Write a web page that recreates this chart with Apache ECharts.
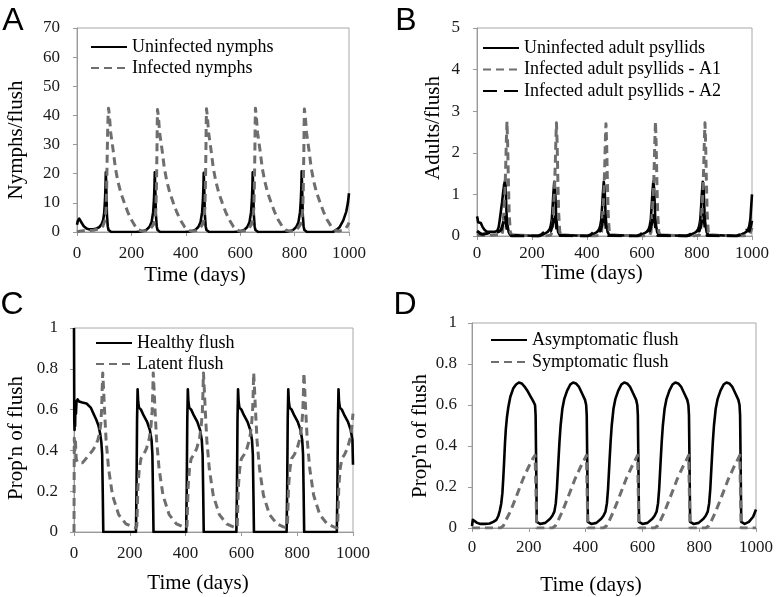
<!DOCTYPE html>
<html><head><meta charset="utf-8">
<script src="https://cdn.jsdelivr.net/npm/echarts@6/dist/echarts.min.js"></script>
<style>html,body{margin:0;padding:0;background:#fff}#c{width:776px;height:597px}</style>
</head><body><div id="c"></div>
<script>
// ---------- tick labels ----------
const xTicks = [0, 200, 400, 600, 800, 1000];
const yTicksA = [0, 10, 20, 30, 40, 50, 60, 70];
const yTicksB = [0, 1, 2, 3, 4, 5];
const yTicksC = [0, 0.2, 0.4, 0.6, 0.8, 1];
const yTicksD = [0, 0.2, 0.4, 0.6, 0.8, 1];

// ---------- Panel A: nymphs per flush [time, value] ----------
const uninfectedNymphs = [
[0,2.5],[3,3.8],[8,4.6],[12,4.3],[18,3.0],[25,2.0],[35,1.2],[45,0.9],[60,0.9],[72,1.2],[82,1.7],[90,2.6],[96,4.0],[100,6.5],[103,11],[105,16],[106,20.5],[108,14],[110,6],[113,2],[116,0.7],[120,0.1],[126,0],
[216,0],[236,0.15],[246,0.4],[256,0.8],[266,1.7],[274,3.3],[280,6.8],[283,11],[285,16],[286,20.5],[288,14],[290,6],[293,2],[296,0.7],[300,0.1],[306,0],
[396,0],[416,0.15],[426,0.4],[436,0.8],[446,1.7],[454,3.3],[460,6.8],[463,11],[465,16],[466,20.3],[468,14],[470,6],[473,2],[476,0.7],[480,0.1],[486,0],
[576,0],[596,0.15],[606,0.4],[616,0.8],[626,1.7],[634,3.3],[640,6.8],[643,11],[645,16],[646,20.5],[648,14],[650,6],[653,2],[656,0.7],[660,0.1],[666,0],
[756,0],[776,0.15],[786,0.4],[796,0.8],[806,1.7],[814,3.3],[820,6.8],[823,11],[825,16],[826,20.8],[828,14],[830,6],[833,2],[836,0.7],[840,0.1],[846,0],
[940,0],[955,0.8],[965,1.6],[979,4],[990,7],[996,10],[1000,13.3]
];
const infectedNymphs = [
[0,0],[10,0.3],[30,0.5],[60,0.6],[80,1.0],[95,2.0],[103,4],[107,8],[109,15],[111,26],[113,36],[115,41.5],[116,42.5],[119,40],[124,34],[133,28],[141,22],[150,17.5],[161,13.5],[174,10],[186,7],[199,4.3],[216,1.7],[227,0.7],[241,0.3],
[256,0.4],[271,1.2],[281,2.5],[286,4],[290,8],[292,15],[294,28],[295,37],[296,42],[299,40],[304,34],[313,28],[321,22],[330,17.5],[341,13.5],[354,10],[366,7],[379,4.3],[396,1.7],[407,0.7],[421,0.3],
[436,0.4],[451,1.2],[461,2.5],[466,4],[470,8],[472,15],[474,28],[475,37],[476,42.3],[479,40],[484,34],[493,28],[501,22],[510,17.5],[521,13.5],[534,10],[546,7],[559,4.3],[576,1.7],[587,0.7],[601,0.3],
[616,0.4],[631,1.2],[641,2.5],[646,4],[650,8],[652,15],[654,28],[655,37],[656,42.5],[659,40],[664,34],[673,28],[681,22],[690,17.5],[701,13.5],[714,10],[726,7],[739,4.3],[756,1.7],[767,0.7],[781,0.3],
[796,0.4],[811,1.2],[821,2.5],[826,4],[830,8],[832,15],[834,28],[835,37],[836,42.2],[839,40],[844,34],[853,28],[861,22],[870,17.5],[881,13.5],[894,10],[906,7],[919,4.3],[936,1.7],[947,0.7],[961,0.3],
[976,0.6],[988,1.3],[995,2.2],[1000,3.2]
];

// ---------- Panel B: adults per flush ----------
const uninfectedAdults = [
[0,0.47],[2,0.42],[4,0.33],[7,0.32],[10,0.35],[14,0.31],[20,0.22],[27,0.15],[35,0.11],[50,0.1],[65,0.1],[74,0.13],[79,0.22],[83,0.4],[87,0.6],[91,0.8],[95,1.05],[99,1.25],[102,1.32],[104,1.2],[106,0.8],[108,0.45],[111,0.25],[115,0.1],[120,0.03],[127,0],
[222,0],[237,0.03],[247,0.06],[257,0.1],[264,0.16],[268,0.24],[272,0.4],[275,0.7],[278,1.05],[281,1.3],[283,1.3],[284,1.15],[286,0.8],[288,0.45],[291,0.25],[295,0.1],[300,0.03],[307,0],
[402,0],[417,0.03],[427,0.06],[437,0.1],[444,0.16],[448,0.24],[452,0.4],[455,0.7],[458,1.05],[461,1.3],[463,1.3],[464,1.15],[466,0.8],[468,0.45],[471,0.25],[475,0.1],[480,0.03],[487,0],
[582,0],[597,0.03],[607,0.06],[617,0.1],[624,0.16],[628,0.24],[632,0.4],[635,0.7],[638,1.05],[641,1.3],[643,1.3],[644,1.15],[646,0.8],[648,0.45],[651,0.25],[655,0.1],[660,0.03],[667,0],
[762,0],[777,0.03],[787,0.06],[797,0.1],[804,0.16],[808,0.24],[812,0.4],[815,0.7],[818,1.05],[821,1.3],[823,1.3],[824,1.15],[826,0.8],[828,0.45],[831,0.25],[835,0.1],[840,0.03],[847,0],
[944,0],[959,0.03],[969,0.06],[979,0.1],[986,0.16],[990,0.24],[994,0.4],[997,0.7],[1000,1.0]
];
const infectedA1 = [
[0,0.02],[20,0.01],[50,0.02],[80,0.03],[88,0.02],[93,0.1],[97,0.5],[102,1.15],[104.5,1.7],[107,2.35],[109,2.75],[111.5,2.2],[114,1.35],[117,0.55],[121,0.1],[126,0.02],[133,0],
[248,0],[268,0.02],[273,0.1],[277,0.5],[282,1.15],[284.5,1.7],[287,2.35],[289,2.72],[291.5,2.2],[294,1.35],[297,0.55],[301,0.1],[306,0.02],[313,0],
[428,0],[448,0.02],[453,0.1],[457,0.5],[462,1.15],[464.5,1.7],[467,2.35],[469,2.7],[471.5,2.2],[474,1.35],[477,0.55],[481,0.1],[486,0.02],[493,0],
[608,0],[628,0.02],[633,0.1],[637,0.5],[642,1.15],[644.5,1.7],[647,2.35],[649,2.75],[651.5,2.2],[654,1.35],[657,0.55],[661,0.1],[666,0.02],[673,0],
[788,0],[808,0.02],[813,0.1],[817,0.5],[822,1.15],[824.5,1.7],[827,2.35],[829,2.72],[831.5,2.2],[834,1.35],[837,0.55],[841,0.1],[846,0.02],[853,0],
[970,0],[985,0.02],[993,0.06],[1000,0.2]
];
const infectedA2 = [
[0,0.12],[5,0.1],[12,0.06],[20,0.04],[35,0.06],[50,0.09],[65,0.1],[78,0.1],[88,0.15],[95,0.3],[100,0.5],[104,0.45],[108,0.2],[113,0.06],[120,0.01],[128,0],
[222,0],[234,0.03],[242,0.08],[249,0.12],[256,0.14],[262,0.1],[268,0.12],[274,0.25],[279,0.45],[283,0.55],[286,0.4],[289,0.2],[293,0.06],[298,0.01],[304,0],
[402,0],[414,0.03],[422,0.08],[429,0.12],[436,0.14],[442,0.1],[448,0.12],[454,0.25],[459,0.45],[463,0.55],[466,0.4],[469,0.2],[473,0.06],[478,0.01],[484,0],
[582,0],[594,0.03],[602,0.08],[609,0.12],[616,0.14],[622,0.1],[628,0.12],[634,0.25],[639,0.45],[643,0.55],[646,0.4],[649,0.2],[653,0.06],[658,0.01],[664,0],
[762,0],[774,0.03],[782,0.08],[789,0.12],[796,0.14],[802,0.1],[808,0.12],[814,0.25],[819,0.45],[823,0.55],[826,0.4],[829,0.2],[833,0.06],[838,0.01],[844,0],
[944,0],[956,0.03],[964,0.08],[971,0.12],[978,0.14],[984,0.1],[990,0.12],[996,0.25],[1000,0.4]
];

// ---------- Panel C: proportion of flush ----------
const healthyFlush = [
[0,1.0],[1,0.55],[2,0.5],[3,0.6],[4,0.52],[5,0.62],[7,0.58],[9,0.64],[13,0.65],[18,0.64],[30,0.635],[45,0.63],[60,0.61],[70,0.58],[80,0.55],[88,0.52],[94,0.48],[98,0.44],[101,0.38],[103,0.2],[105,0],
[222,0],[224,0.2],[226,0.55],[228,0.7],[230,0.64],[233,0.61],[240,0.6],[250,0.57],[262,0.54],[272,0.5],[278,0.45],[281,0.38],[283,0.2],[285,0],
[402,0],[404,0.2],[406,0.55],[408,0.7],[410,0.64],[413,0.61],[420,0.6],[430,0.57],[442,0.54],[452,0.5],[458,0.45],[461,0.38],[463,0.2],[465,0],
[582,0],[584,0.2],[586,0.55],[588,0.7],[590,0.64],[593,0.61],[600,0.6],[610,0.57],[622,0.54],[632,0.5],[638,0.45],[641,0.38],[643,0.2],[645,0],
[762,0],[764,0.2],[766,0.55],[768,0.7],[770,0.64],[773,0.61],[780,0.6],[790,0.57],[802,0.54],[812,0.5],[818,0.45],[821,0.38],[823,0.2],[825,0],
[942,0],[944,0.2],[946,0.55],[948,0.7],[950,0.64],[953,0.61],[960,0.6],[970,0.57],[982,0.54],[992,0.5],[998,0.45],[1000,0.33]
];
const latentFlush = [
[0,0],[1,0.46],[3,0.4],[5,0.45],[8,0.36],[12,0.34],[20,0.34],[31,0.34],[40,0.355],[49,0.37],[58,0.385],[67,0.4],[76,0.42],[85,0.45],[91,0.48],[96,0.53],[99,0.6],[101,0.7],[103,0.78],[106,0.7],[109,0.61],[115,0.45],[124,0.31],[138,0.18],[160,0.085],[186,0.04],[210,0.025],[222,0.02],
[225,0.03],[227,0.12],[229,0.22],[234,0.31],[240,0.36],[250,0.38],[260,0.41],[270,0.46],[276,0.52],[280,0.59],[282,0.67],[284,0.78],[287,0.7],[290,0.61],[296,0.45],[305,0.31],[319,0.18],[341,0.085],[367,0.04],[391,0.025],[402,0.02],
[405,0.03],[407,0.12],[409,0.22],[414,0.31],[420,0.36],[430,0.38],[440,0.41],[450,0.46],[456,0.52],[460,0.59],[462,0.67],[464,0.78],[467,0.7],[470,0.61],[476,0.45],[485,0.31],[499,0.18],[521,0.085],[547,0.04],[571,0.025],[582,0.02],
[585,0.03],[587,0.12],[589,0.22],[594,0.31],[600,0.36],[610,0.38],[620,0.41],[630,0.46],[636,0.52],[640,0.59],[642,0.67],[644,0.78],[647,0.7],[650,0.61],[656,0.45],[665,0.31],[679,0.18],[701,0.085],[727,0.04],[751,0.025],[762,0.02],
[765,0.03],[767,0.12],[769,0.22],[774,0.31],[780,0.36],[790,0.38],[800,0.41],[810,0.46],[816,0.52],[820,0.59],[822,0.67],[824,0.78],[827,0.7],[830,0.61],[836,0.45],[845,0.31],[859,0.18],[881,0.085],[907,0.04],[931,0.025],[942,0.02],
[945,0.03],[947,0.12],[949,0.22],[954,0.31],[960,0.36],[970,0.38],[980,0.41],[990,0.46],[996,0.52],[1000,0.58]
];

// ---------- Panel D: proportion of flush ----------
const asymptomaticFlush = [
[0,0.01],[3,0.04],[6,0.045],[10,0.035],[18,0.025],[30,0.02],[45,0.02],[62,0.022],[75,0.03],[86,0.04],[93,0.06],[98,0.085],[103,0.12],[107,0.17],[110,0.24],[113,0.32],[116,0.41],[119,0.48],[123,0.54],[128,0.59],[135,0.64],[145,0.68],[155,0.70],[165,0.71],[175,0.705],[185,0.69],[195,0.67],[205,0.645],[215,0.62],[222,0.6],[224,0.55],[226,0.3],[228,0.03],
[240,0.02],[258,0.025],[275,0.045],[283,0.06],[290,0.08],[295,0.12],[299,0.19],[304,0.32],[308,0.42],[312,0.5],[318,0.58],[325,0.63],[335,0.67],[346,0.70],[356,0.71],[366,0.705],[376,0.69],[388,0.655],[398,0.625],[402,0.6],[404,0.55],[406,0.3],[408,0.03],
[420,0.02],[438,0.025],[455,0.045],[463,0.06],[470,0.08],[475,0.12],[479,0.19],[484,0.32],[488,0.42],[492,0.5],[498,0.58],[505,0.63],[515,0.67],[526,0.70],[536,0.71],[546,0.705],[556,0.69],[568,0.655],[578,0.625],[582,0.6],[584,0.55],[586,0.3],[588,0.03],
[600,0.02],[618,0.025],[635,0.045],[643,0.06],[650,0.08],[655,0.12],[659,0.19],[664,0.32],[668,0.42],[672,0.5],[678,0.58],[685,0.63],[695,0.67],[706,0.70],[716,0.71],[726,0.705],[736,0.69],[748,0.655],[758,0.625],[762,0.6],[764,0.55],[766,0.3],[768,0.03],
[780,0.02],[798,0.025],[815,0.045],[823,0.06],[830,0.08],[835,0.12],[839,0.19],[844,0.32],[848,0.42],[852,0.5],[858,0.58],[865,0.63],[875,0.67],[886,0.70],[896,0.71],[906,0.705],[916,0.69],[928,0.655],[938,0.625],[942,0.6],[944,0.55],[946,0.3],[948,0.03],
[960,0.02],[975,0.03],[990,0.055],[1000,0.09]
];
const symptomaticFlush = [
[0,0],[100,0],[110,0.01],[120,0.04],[135,0.08],[155,0.15],[180,0.24],[200,0.30],[215,0.34],[222,0.355],[225,0.2],[228,0],
[283,0],[293,0.01],[303,0.035],[318,0.08],[338,0.15],[363,0.24],[383,0.30],[398,0.34],[403,0.355],[405,0.2],[408,0],
[463,0],[473,0.01],[483,0.035],[498,0.08],[518,0.15],[543,0.24],[563,0.30],[578,0.34],[583,0.355],[585,0.2],[588,0],
[643,0],[653,0.01],[663,0.035],[678,0.08],[698,0.15],[723,0.24],[743,0.30],[758,0.34],[763,0.355],[765,0.2],[768,0],
[823,0],[833,0.01],[843,0.035],[858,0.08],[878,0.15],[903,0.24],[923,0.30],[938,0.34],[943,0.355],[945,0.2],[948,0],
[1000,0]
];

// ---------- styling / layout ----------
const SERIF = 'Liberation Serif';
const SANS = 'Liberation Sans';
const AXIS_GRAY = '#9a9a9a';
const BLACK = '#000000';
const GRAY = '#6e6e6e';

const grids = [
  {left: 77, top: 28, width: 272, height: 204},
  {left: 477, top: 28, width: 275, height: 208},
  {left: 74, top: 328, width: 279, height: 204},
  {left: 472, top: 323, width: 285, height: 205}
];
const yTickSets = [yTicksA, yTicksB, yTicksC, yTicksD];
const xLabelMargins = [13, 9, 13, 11];
const yLabelMargins = [17, 17, 16, 15];

function xAxisFor(i) {
  return {
    type: 'value', gridIndex: i,
    min: xTicks[0], max: xTicks[xTicks.length - 1], interval: xTicks[1] - xTicks[0],
    axisLine: {show: true, onZero: false, lineStyle: {color: AXIS_GRAY, width: 1}},
    axisTick: {show: true, length: 4, lineStyle: {color: AXIS_GRAY}},
    axisLabel: {fontFamily: SERIF, fontSize: 17, color: '#1a1a1a', margin: xLabelMargins[i],
      formatter: v => String(v)},
    splitLine: {show: false}
  };
}
function yAxisFor(i) {
  const t = yTickSets[i];
  return {
    type: 'value', gridIndex: i,
    min: t[0], max: t[t.length - 1], interval: t[1] - t[0],
    axisLine: {show: true, onZero: false, lineStyle: {color: AXIS_GRAY, width: 1}},
    axisTick: {show: true, length: 4, lineStyle: {color: AXIS_GRAY}},
    axisLabel: {fontFamily: SERIF, fontSize: 17, color: '#1a1a1a', margin: yLabelMargins[i],
      formatter: v => String(Math.round(v * 10) / 10)},
    splitLine: {show: false}
  };
}
function lineSeries(name, data, gi, color, width, dash) {
  return {
    name, type: 'line', xAxisIndex: gi, yAxisIndex: gi, data,
    symbol: 'none', showSymbol: false, smooth: false,
    lineStyle: {color, width, type: dash || 'solid', cap: 'butt', join: 'round'},
    itemStyle: {color},
    emphasis: {disabled: true}
  };
}
function legendFor(left, top, names, gap) {
  return {
    left, top, orient: 'vertical', itemWidth: 36, itemHeight: 14, itemGap: gap,
    selectedMode: false, padding: 0,
    itemStyle: {opacity: 0},
    textStyle: {fontFamily: SERIF, fontSize: 18, color: '#000'},
    data: names
  };
}
function txt(x, y, text, size, family, rot) {
  return {
    type: 'text', x, y, rotation: rot || 0, silent: true,
    style: {text, fontSize: size, fontFamily: family, fill: '#000',
      textAlign: 'center', textVerticalAlign: 'middle', align: 'center', verticalAlign: 'middle'}
  };
}

const option = {
  animation: false,
  backgroundColor: '#ffffff',
  grid: grids.map(g => Object.assign({show: true, borderColor: '#a8a8a8', borderWidth: 1, backgroundColor: 'transparent', containLabel: false}, g)),
  xAxis: [0, 1, 2, 3].map(xAxisFor),
  yAxis: [0, 1, 2, 3].map(yAxisFor),
  legend: [
    legendFor(90, 38, ['Uninfected nymphs', 'Infected nymphs'], 3),
    legendFor(482, 39, ['Uninfected adult psyllids', 'Infected adult psyllids - A1', 'Infected adult psyllids - A2'], 3.5),
    legendFor(95, 334, ['Healthy flush', 'Latent flush'], 3),
    legendFor(490, 331, ['Asymptomatic flush', 'Symptomatic flush'], 4)
  ],
  series: [
    lineSeries('Uninfected nymphs', uninfectedNymphs, 0, BLACK, 2.6),
    lineSeries('Infected nymphs', infectedNymphs, 0, GRAY, 3, [8, 5]),
    lineSeries('Uninfected adult psyllids', uninfectedAdults, 1, BLACK, 2.6),
    lineSeries('Infected adult psyllids - A1', infectedA1, 1, GRAY, 3, [8, 5]),
    lineSeries('Infected adult psyllids - A2', infectedA2, 1, BLACK, 3, [14, 7]),
    lineSeries('Healthy flush', healthyFlush, 2, BLACK, 2.6),
    lineSeries('Latent flush', latentFlush, 2, GRAY, 3, [8, 5]),
    lineSeries('Asymptomatic flush', asymptomaticFlush, 3, BLACK, 2.6),
    lineSeries('Symptomatic flush', symptomaticFlush, 3, GRAY, 3, [8, 5])
  ],
  graphic: [
    txt(13, 21, 'A', 32, SANS),
    txt(406, 21, 'B', 32, SANS),
    txt(12, 305, 'C', 32, SANS),
    txt(405, 305, 'D', 32, SANS),
    txt(195, 275, 'Time (days)', 21, SERIF),
    txt(592, 273, 'Time (days)', 21, SERIF),
    txt(198, 583, 'Time (days)', 21, SERIF),
    txt(591, 585, 'Time (days)', 21, SERIF),
    txt(16, 140, 'Nymphs/flush', 21, SERIF, Math.PI / 2),
    txt(433, 128, 'Adults/flush', 21, SERIF, Math.PI / 2),
    txt(16, 438, "Prop'n of flush", 21, SERIF, Math.PI / 2),
    txt(420, 436, "Prop'n of flush", 21, SERIF, Math.PI / 2)
  ]
};
const chart = echarts.init(document.getElementById('c'), null, {renderer: 'canvas'});
chart.setOption(option);
</script>
</body></html>
